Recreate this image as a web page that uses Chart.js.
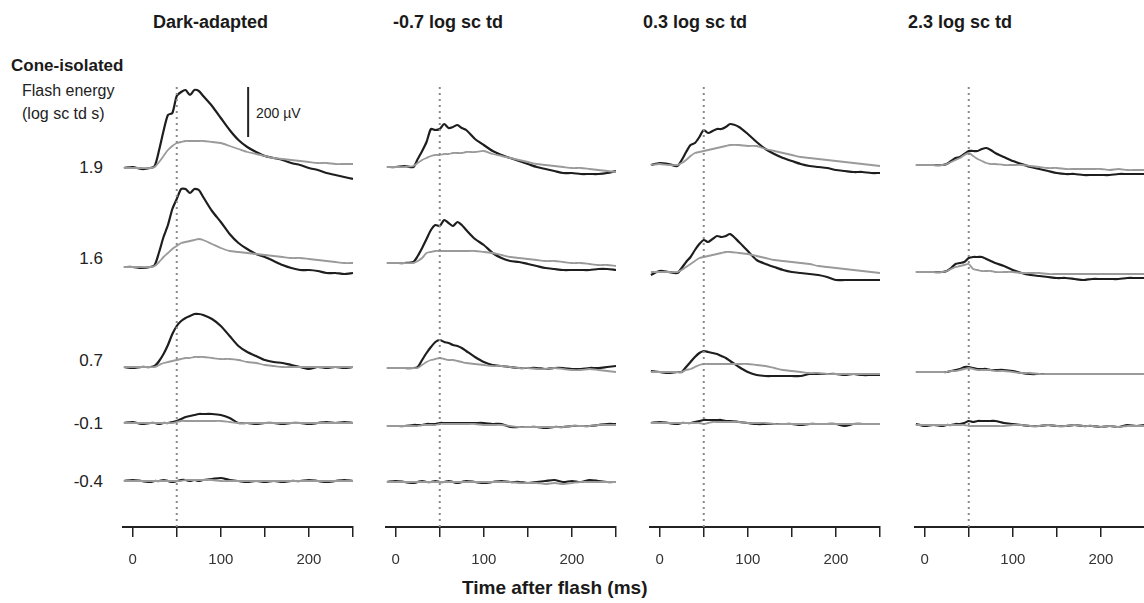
<!DOCTYPE html>
<html>
<head>
<meta charset="utf-8">
<script src="https://cdn.jsdelivr.net/npm/chart.js@4.4.0/dist/chart.umd.min.js"></script>
<style>
  html, body { margin: 0; padding: 0; background: #fff; }
  body { width: 1144px; height: 603px; position: relative; overflow: hidden; font-family: Arial, "Liberation Sans", sans-serif; color: #222; }
  .txt { position: absolute; white-space: nowrap; line-height: 20px; }
  .b { font-weight: bold; font-size: 17px; color: #1a1a1a; }
  .title { font-size: 18px; }
  .lvl { font-size: 17px; text-align: right; width: 60px; }
  canvas { position: absolute; top: 60px; }
</style>
</head>
<body>
<div class="txt b title" style="left:153px; top:12px;">Dark-adapted</div>
<div class="txt b title" style="left:393px; top:12px;">-0.7 log sc td</div>
<div class="txt b title" style="left:643px; top:12px;">0.3 log sc td</div>
<div class="txt b title" style="left:908px; top:12px;">2.3 log sc td</div>
<div class="txt b" style="left:11px; top:56px;">Cone-isolated</div>
<div class="txt" style="left:22px; top:81px; font-size:16px;">Flash energy</div>
<div class="txt" style="left:22px; top:104px; font-size:16px;">(log sc td s)</div>
<div class="txt" style="left:256px; top:103px; font-size:14px;">200 &micro;V</div>
<div class="txt lvl" style="left:43px; top:158px;">1.9</div>
<div class="txt lvl" style="left:43px; top:249px;">1.6</div>
<div class="txt lvl" style="left:43px; top:351px;">0.7</div>
<div class="txt lvl" style="left:43px; top:414px;">-0.1</div>
<div class="txt lvl" style="left:43px; top:472px;">-0.4</div>
<div class="txt b" style="left:462px; top:578px; font-size:19px;">Time after flash (ms)</div>

<canvas id="p0" width="270" height="543" style="left:103px;"></canvas>
<canvas id="p1" width="270" height="543" style="left:366px;"></canvas>
<canvas id="p2" width="270" height="543" style="left:630px;"></canvas>
<canvas id="p3" width="270" height="543" style="left:895px;"></canvas>

<script>
// time after flash (ms), shared by every trace
const T = [-10, 0, 10, 20, 25, 30, 35, 40, 45, 50, 55, 60, 65, 70, 75, 80, 90, 100, 110, 120, 130, 140, 150, 160, 170, 180, 190, 200, 210, 220, 230, 240, 250];
const TICKS = [0, 50, 100, 150, 200, 250];
const TICK_LABELS = ['0', '', '100', '', '200', ''];
const FLASH_MS = 50;
const SCALE_BAR_UV = 200;

// responses in µV, black = full trace, gray = second trace
// Dark-adapted
const darkBlack19 = [0,4,-4,0,8,72,148,212,220,288,304,312,292,312,308,288,248,200,152,112,84,64,48,40,32,20,12,0,-8,-20,-28,-36,-44];
const darkGray19  = [0,0,0,0,4,24,48,72,88,100,104,108,108,108,108,108,104,100,88,76,64,56,48,40,36,32,28,24,20,20,16,16,16];
const darkBlack16 = [0,0,-4,0,8,60,120,168,232,272,312,312,296,312,308,280,224,180,132,96,72,52,40,24,8,-4,-12,-12,-16,-24,-24,-28,-24];
const darkGray16  = [0,0,0,0,4,20,40,56,72,84,96,100,104,108,112,108,92,76,64,60,56,52,48,44,40,36,36,32,28,24,20,16,16];
const darkBlack07 = [0,-4,0,0,4,24,52,88,132,164,184,196,204,212,212,208,192,164,124,84,60,44,28,20,16,8,0,-8,0,-4,0,-4,0];
const darkGray07  = [0,0,0,0,0,8,16,20,24,28,32,36,36,40,40,40,36,32,32,28,20,16,8,4,0,0,0,0,0,0,0,0,0];
const darkBlackM01 = [0,4,-4,0,0,-4,0,0,4,8,16,24,28,32,36,36,36,32,20,0,0,-4,0,0,-4,0,0,-4,0,4,0,4,0];
const darkGrayM01  = [0,0,0,0,0,0,0,0,0,4,8,8,8,8,8,8,8,8,4,0,0,0,0,0,0,0,0,0,0,0,0,0,0];
const darkBlackM04 = [0,4,0,-4,0,0,4,0,-4,0,4,4,0,4,0,4,8,12,4,0,-4,0,-4,0,-4,0,0,4,0,-4,0,4,0];
const darkGrayM04  = [0,0,0,0,0,0,0,0,0,0,0,4,4,4,4,4,4,0,0,0,0,0,0,0,0,0,0,0,0,0,0,0,0];

// -0.7 log sc td
const lowBlack19 = [0,0,4,0,32,64,100,152,148,152,172,156,160,168,156,148,112,88,64,48,36,24,12,0,-8,-16,-24,-24,-28,-28,-28,-24,-16];
const lowGray19  = [0,0,0,4,16,28,36,44,48,48,52,52,56,56,56,60,60,64,52,44,36,28,20,12,8,4,0,-4,-4,-8,-12,-16,-20];
const lowBlack16 = [0,0,0,4,28,60,96,132,152,148,172,160,148,164,152,132,96,72,40,20,8,4,-4,-12,-20,-24,-28,-28,-28,-28,-24,-24,-28];
const lowGray16  = [0,0,0,0,8,20,40,44,48,48,48,48,48,48,48,48,48,44,40,32,24,20,16,12,8,8,4,0,0,-4,-8,-8,-12];
const lowBlack07 = [0,0,0,0,4,32,60,84,104,112,104,100,92,88,80,68,44,24,12,8,4,0,0,0,-4,0,0,-4,-4,0,0,4,8];
const lowGray07  = [0,0,0,0,0,12,24,32,36,40,36,32,32,28,24,20,16,12,8,8,4,0,0,-4,-4,0,-4,-8,-8,-4,-8,-12,-16];
const lowBlackM01 = [0,0,0,4,4,4,8,8,8,12,12,12,12,12,12,12,12,12,8,8,-4,-4,-4,-4,-8,-4,-4,0,0,0,4,8,8];
const lowGrayM01  = [0,0,0,0,0,4,4,4,4,8,8,8,8,8,8,8,8,4,4,4,0,-4,-4,-4,-4,-4,-4,0,0,0,4,4,4];
const lowBlackM04 = [0,4,0,-4,0,4,0,0,4,0,0,4,0,-4,0,4,0,-4,0,4,0,0,-4,0,4,8,0,4,0,8,4,0,0];
const lowGrayM04  = [0,0,0,0,0,0,0,0,0,0,0,0,0,0,0,0,0,0,0,0,0,-4,-4,-4,-8,-4,-8,-4,0,0,0,0,0];

// 0.3 log sc td
const midBlack19 = [0,8,4,-4,20,52,80,88,112,140,128,136,144,144,152,164,152,124,92,64,44,28,16,4,-4,-8,-12,-20,-24,-28,-28,-32,-32];
const midGray19  = [0,4,0,0,8,20,36,48,52,56,60,64,68,72,76,80,80,76,76,64,56,48,40,32,28,24,20,16,12,8,4,0,-4];
const midBlack16 = [-12,4,0,-4,16,40,60,88,112,128,120,132,144,140,144,152,120,84,48,32,20,8,0,-4,-8,-12,-20,-32,-32,-32,-32,-32,-32];
const midGray16  = [0,0,0,0,8,20,32,44,56,60,64,68,72,76,80,80,76,72,64,56,48,44,40,36,32,24,20,16,12,8,4,0,-4];
const midBlack07 = [4,0,-4,0,0,20,40,60,76,84,80,76,72,64,56,44,20,0,-12,-16,-16,-16,-16,-16,-8,-8,-8,-8,-12,-8,-12,-12,-12];
const midGray07  = [0,0,0,0,0,8,12,20,28,32,32,32,32,32,32,32,32,32,28,24,16,8,4,0,-4,-4,-8,-8,-8,-8,-8,-8,-8];
const midBlackM01 = [0,4,0,-4,0,0,0,4,8,12,12,12,12,12,8,8,4,0,-4,-4,-4,-4,-4,-8,-4,-4,-4,-4,-12,-4,-4,-4,-4];
const midGrayM01  = [0,0,0,0,0,0,0,0,0,-4,0,4,4,4,4,4,4,0,0,0,-4,-4,-4,-4,-4,-4,-4,-4,-4,-4,-4,-4,-4];

// 2.3 log sc td
const highBlack19 = [0,0,0,0,4,16,28,32,44,56,56,56,64,68,60,48,32,16,4,-8,-16,-24,-32,-36,-36,-40,-40,-40,-40,-36,-36,-36,-36];
const highGray19  = [0,0,0,0,4,12,20,28,40,48,36,24,16,8,4,4,0,0,0,-4,-8,-12,-12,-16,-16,-16,-16,-16,-20,-16,-20,-20,-20];
const highBlack16 = [0,0,0,0,4,16,32,36,40,56,60,60,60,52,44,36,24,8,-4,-12,-16,-20,-24,-24,-28,-32,-28,-28,-28,-28,-24,-24,-24];
const highGray16  = [0,0,0,0,4,12,20,24,28,32,12,8,4,4,4,0,0,0,-4,-4,-4,-8,-8,-8,-8,-8,-8,-8,-8,-8,-8,-8,-8];
const highBlack07 = [0,0,0,0,0,4,8,12,20,20,16,12,12,12,8,8,8,4,-4,-8,-8,-8,-8,-8,-8,-8,-8,-8,-8,-8,-8,-8,-8];
const highGray07  = [0,0,0,0,0,4,4,8,12,16,12,8,8,8,8,4,4,0,-4,-4,-8,-8,-8,-8,-8,-8,-8,-8,-8,-8,-8,-8,-8];
const highBlackM01 = [4,-4,0,-4,0,0,4,4,8,16,12,16,16,16,16,16,8,4,0,-4,-4,0,-4,-4,0,-4,-4,-8,-4,-8,0,-4,0];
const highGrayM01  = [0,0,0,0,0,0,0,0,0,-4,-4,-4,-4,-4,-4,-4,-4,0,0,-4,-4,0,-4,-4,0,-4,-4,-8,-4,-8,-4,-4,-4];

// vertical stacking of the traces (µV above the time axis)
const Y_MAX = 1788;
const PANELS = [
  { id: 'p0', black: [darkBlack19, darkBlack16, darkBlack07, darkBlackM01, darkBlackM04],
    gray: [darkGray19, darkGray16, darkGray07, darkGrayM01, darkGrayM04],
    offsets: [1436, 1040, 640, 416, 184], scaleBar: true },
  { id: 'p1', black: [lowBlack19, lowBlack16, lowBlack07, lowBlackM01, lowBlackM04],
    gray: [lowGray19, lowGray16, lowGray07, lowGrayM01, lowGrayM04],
    offsets: [1440, 1056, 636, 404, 180] },
  { id: 'p2', black: [midBlack19, midBlack16, midBlack07, midBlackM01],
    gray: [midGray19, midGray16, midGray07, midGrayM01],
    offsets: [1448, 1020, 620, 416] },
  { id: 'p3', black: [highBlack19, highBlack16, highBlack07, highBlackM01],
    gray: [highGray19, highGray16, highGray07, highGrayM01],
    offsets: [1448, 1020, 620, 408] }
];

function trace(values, offset) {
  return T.map((t, i) => ({ x: t, y: offset + values[i] }));
}

function buildDatasets(panel) {
  const sets = [];
  sets.push({
    data: [{ x: FLASH_MS, y: 0 }, { x: FLASH_MS, y: 1776 }],
    borderColor: '#8a8a8a', borderWidth: 2, borderDash: [2, 4], pointRadius: 0
  });
  panel.offsets.forEach((off, k) => {
    sets.push({ data: trace(panel.gray[k], off), borderColor: '#9a9a9a', borderWidth: 1.8, pointRadius: 0, tension: 0.25 });
    sets.push({ data: trace(panel.black[k], off), borderColor: '#1e1e1e', borderWidth: 2.2, pointRadius: 0, tension: 0.25 });
  });
  if (panel.scaleBar) {
    sets.push({
      data: [{ x: 131, y: 1560 }, { x: 131, y: 1560 + SCALE_BAR_UV }],
      borderColor: '#222', borderWidth: 2, pointRadius: 0
    });
  }
  return sets;
}

PANELS.forEach(panel => {
  new Chart(document.getElementById(panel.id), {
    type: 'line',
    data: { datasets: buildDatasets(panel) },
    options: {
      responsive: false,
      animation: false,
      devicePixelRatio: 1,
      layout: { padding: { top: 20, left: 20, right: 20, bottom: 0 } },
      plugins: { legend: { display: false }, tooltip: { enabled: false } },
      scales: {
        x: {
          type: 'linear', min: -11, max: 250,
          afterBuildTicks: s => { s.ticks = TICKS.map(v => ({ value: v })); },
          afterFit: s => { s.height = 76; },
          border: { display: true, color: '#222', width: 2 },
          grid: { display: true, drawOnChartArea: false, drawTicks: true, tickLength: 10, color: '#222', lineWidth: 1.5 },
          ticks: {
            autoSkip: false, maxRotation: 0, padding: 14, color: '#333',
            font: { family: 'Arial', size: 15 },
            callback: (v, i) => TICK_LABELS[i]
          }
        },
        y: { display: false, min: 0, max: Y_MAX }
      }
    }
  });
});
</script>
</body>
</html>
